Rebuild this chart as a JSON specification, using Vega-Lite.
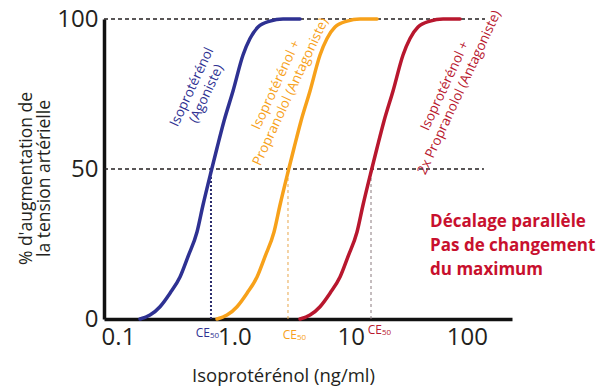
{
  "$schema": "https://vega.github.io/schema/vega-lite/v6.json",
  "width": 408,
  "height": 300,
  "autosize": {"type": "none"},
  "padding": {"left": 104, "top": 19, "right": 88, "bottom": 73},
  "background": "white",
  "config": {
    "view": {"stroke": null},
    "font": "Open Sans",
    "text": {"font": "Open Sans"}
  },
  "encoding": {
    "x": {
      "field": "x",
      "type": "quantitative",
      "scale": {"type": "log", "domain": [0.0758, 244], "nice": false, "zero": false},
      "axis": {
        "values": [0.1, 1, 10, 100],
        "labelExpr": "datum.value < 0.5 ? '0.1' : datum.value < 5 ? '1.0' : datum.value < 50 ? '10' : '100'",
        "ticks": false,
        "grid": false,
        "domainColor": "#111111",
        "domainWidth": 3.5,
        "labelFontSize": 24,
        "labelColor": "#231f20",
        "labelFont": "Open Sans",
        "labelPadding": 6,
        "labelFlush": false,
        "labelOverlap": false,
        "title": "Isoprotérénol (ng/ml)",
        "titleFont": "Open Sans",
        "titleFontSize": 18.5,
        "titleFontWeight": "normal",
        "titleColor": "#231f20",
        "titleX": 179,
        "titleY": 62,
        "titleBaseline": "alphabetic"
      }
    },
    "y": {
      "field": "y",
      "type": "quantitative",
      "scale": {"domain": [0, 100], "nice": false},
      "axis": {
        "values": [0, 50, 100],
        "ticks": false,
        "grid": false,
        "domainColor": "#111111",
        "domainWidth": 3.5,
        "labelFontSize": 24,
        "labelColor": "#231f20",
        "labelFont": "Open Sans",
        "labelPadding": 6,
        "labelFlush": false,
        "labelOverlap": false,
        "title": ["% d'augmentation de", "la tension artérielle"],
        "titleFont": "Open Sans",
        "titleFontSize": 17.5,
        "titleFontWeight": "normal",
        "titleColor": "#231f20",
        "titleAngle": -90,
        "titleAlign": "center",
        "titleBaseline": "middle",
        "titleLineHeight": 18,
        "titleX": -78,
        "titleY": 159
      }
    }
  },
  "layer": [
    {
      "data": {"values": [
        {"x": 0.0758, "x2": 143, "y": 100},
        {"x": 0.0758, "x2": 140, "y": 50}
      ]},
      "mark": {"type": "rule", "color": "#231f20", "strokeWidth": 1.6, "strokeDash": [4, 3]},
      "encoding": {"x2": {"field": "x2"}}
    },
    {
      "data": {"values": [{"x": 0.6302, "y": 0, "y2": 50}]},
      "mark": {"type": "rule", "color": "#2b2d6e", "strokeWidth": 2, "strokeDash": [2, 2]},
      "encoding": {"y2": {"field": "y2"}}
    },
    {
      "data": {"values": [{"x": 2.894, "y": 0, "y2": 50}]},
      "mark": {"type": "rule", "color": "#e8a64a", "strokeWidth": 1, "strokeDash": [3, 3]},
      "encoding": {"y2": {"field": "y2"}}
    },
    {
      "data": {"values": [{"x": 14.97, "y": 0, "y2": 50}]},
      "mark": {"type": "rule", "color": "#8a7a7e", "strokeWidth": 1, "strokeDash": [3, 3]},
      "encoding": {"y2": {"field": "y2"}}
    },
    {
      "data": {"values": [
        {"series": "Agoniste", "x": 0.1546, "y": 0},
        {"series": "Agoniste", "x": 0.1884, "y": 1.3},
        {"series": "Agoniste", "x": 0.2297, "y": 4.1},
        {"series": "Agoniste", "x": 0.2800, "y": 8.6},
        {"series": "Agoniste", "x": 0.3413, "y": 14},
        {"series": "Agoniste", "x": 0.3998, "y": 20.8},
        {"series": "Agoniste", "x": 0.4778, "y": 29},
        {"series": "Agoniste", "x": 0.5381, "y": 38},
        {"series": "Agoniste", "x": 0.6302, "y": 49},
        {"series": "Agoniste", "x": 0.7101, "y": 57},
        {"series": "Agoniste", "x": 0.8156, "y": 66},
        {"series": "Agoniste", "x": 0.9746, "y": 76},
        {"series": "Agoniste", "x": 1.1881, "y": 88},
        {"series": "Agoniste", "x": 1.3646, "y": 93.5},
        {"series": "Agoniste", "x": 1.5989, "y": 97.3},
        {"series": "Agoniste", "x": 2.0277, "y": 99.3},
        {"series": "Agoniste", "x": 2.6230, "y": 100},
        {"series": "Agoniste", "x": 3.6725, "y": 100},
        {"series": "Antagoniste", "x": 0.7101, "y": 0},
        {"series": "Antagoniste", "x": 0.8653, "y": 1.3},
        {"series": "Antagoniste", "x": 1.0550, "y": 4.1},
        {"series": "Antagoniste", "x": 1.2860, "y": 8.6},
        {"series": "Antagoniste", "x": 1.5676, "y": 14},
        {"series": "Antagoniste", "x": 1.8363, "y": 20.8},
        {"series": "Antagoniste", "x": 2.1945, "y": 29},
        {"series": "Antagoniste", "x": 2.4715, "y": 38},
        {"series": "Antagoniste", "x": 2.8945, "y": 49},
        {"series": "Antagoniste", "x": 3.2615, "y": 57},
        {"series": "Antagoniste", "x": 3.7461, "y": 66},
        {"series": "Antagoniste", "x": 4.4763, "y": 76},
        {"series": "Antagoniste", "x": 5.4570, "y": 88},
        {"series": "Antagoniste", "x": 6.2676, "y": 93.5},
        {"series": "Antagoniste", "x": 7.3437, "y": 97.3},
        {"series": "Antagoniste", "x": 9.3132, "y": 99.3},
        {"series": "Antagoniste", "x": 12.047, "y": 100},
        {"series": "Antagoniste", "x": 16.868, "y": 100},
        {"series": "2x Antagoniste", "x": 3.672, "y": 0},
        {"series": "2x Antagoniste", "x": 4.475, "y": 1.3},
        {"series": "2x Antagoniste", "x": 5.455, "y": 4.1},
        {"series": "2x Antagoniste", "x": 6.650, "y": 8.6},
        {"series": "2x Antagoniste", "x": 8.106, "y": 14},
        {"series": "2x Antagoniste", "x": 9.495, "y": 20.8},
        {"series": "2x Antagoniste", "x": 11.348, "y": 29},
        {"series": "2x Antagoniste", "x": 12.780, "y": 38},
        {"series": "2x Antagoniste", "x": 14.967, "y": 49},
        {"series": "2x Antagoniste", "x": 16.865, "y": 57},
        {"series": "2x Antagoniste", "x": 19.371, "y": 66},
        {"series": "2x Antagoniste", "x": 23.147, "y": 76},
        {"series": "2x Antagoniste", "x": 28.217, "y": 88},
        {"series": "2x Antagoniste", "x": 32.409, "y": 93.5},
        {"series": "2x Antagoniste", "x": 37.974, "y": 97.3},
        {"series": "2x Antagoniste", "x": 48.158, "y": 99.3},
        {"series": "2x Antagoniste", "x": 62.296, "y": 100},
        {"series": "2x Antagoniste", "x": 87.222, "y": 100}
      ]},
      "mark": {"type": "line", "strokeWidth": 3.5, "interpolate": "monotone", "strokeCap": "round"},
      "encoding": {
        "color": {
          "field": "series",
          "type": "nominal",
          "scale": {"domain": ["Agoniste", "Antagoniste", "2x Antagoniste"], "range": ["#2e3192", "#f7a11a", "#b8172e"]},
          "legend": null
        }
      }
    },
    {
      "data": {"values": [
        {"series": "Agoniste", "x": 0.433, "y": 77.3, "label": "Isoprotérénol\n(Agoniste)"},
        {"series": "Antagoniste", "x": 2.29, "y": 78, "label": "Isoprotérénol +\nPropranolol (Antagoniste)"},
        {"series": "2x Antagoniste", "x": 64.7, "y": 77.7, "label": "Isoprotérénol +\n2x Propranolol (Antagoniste)"}
      ]},
      "mark": {"type": "text", "angle": -65, "fontSize": 13.5, "align": "center", "baseline": "middle", "lineBreak": "\n", "lineHeight": 16},
      "encoding": {
        "text": {"field": "label"},
        "color": {
          "field": "series",
          "type": "nominal",
          "scale": {"domain": ["Agoniste", "Antagoniste", "2x Antagoniste"], "range": ["#2e3192", "#f7a11a", "#b8172e"]},
          "legend": null
        }
      }
    },
    {
      "data": {"values": [
        {"x": 48.2, "y": 32.3, "label": "Décalage parallèle\nPas de changement\ndu maximum"}
      ]},
      "mark": {"type": "text", "align": "left", "baseline": "middle", "fontSize": 17, "fontWeight": "bold", "color": "#c8102e", "lineBreak": "\n", "lineHeight": 24},
      "encoding": {"text": {"field": "label"}}
    },
    {
      "data": {"values": [
        {"series": "Agoniste", "x": 0.618, "y": -4.67},
        {"series": "Antagoniste", "x": 3.46, "y": -5.33},
        {"series": "2x Antagoniste", "x": 18.62, "y": -3.67}
      ]},
      "mark": {"type": "text", "align": "right", "baseline": "middle", "fontSize": 12, "text": "CE"},
      "encoding": {
        "color": {
          "field": "series",
          "type": "nominal",
          "scale": {"domain": ["Agoniste", "Antagoniste", "2x Antagoniste"], "range": ["#4a4a8c", "#f2a63a", "#c03a4c"]},
          "legend": null
        }
      }
    },
    {
      "data": {"values": [
        {"series": "Agoniste", "x": 0.618, "y": -4.67},
        {"series": "Antagoniste", "x": 3.46, "y": -5.33},
        {"series": "2x Antagoniste", "x": 18.62, "y": -3.67}
      ]},
      "mark": {"type": "text", "align": "left", "baseline": "middle", "fontSize": 8, "dy": 3, "text": "50"},
      "encoding": {
        "color": {
          "field": "series",
          "type": "nominal",
          "scale": {"domain": ["Agoniste", "Antagoniste", "2x Antagoniste"], "range": ["#4a4a8c", "#f2a63a", "#c03a4c"]},
          "legend": null
        }
      }
    }
  ]
}
